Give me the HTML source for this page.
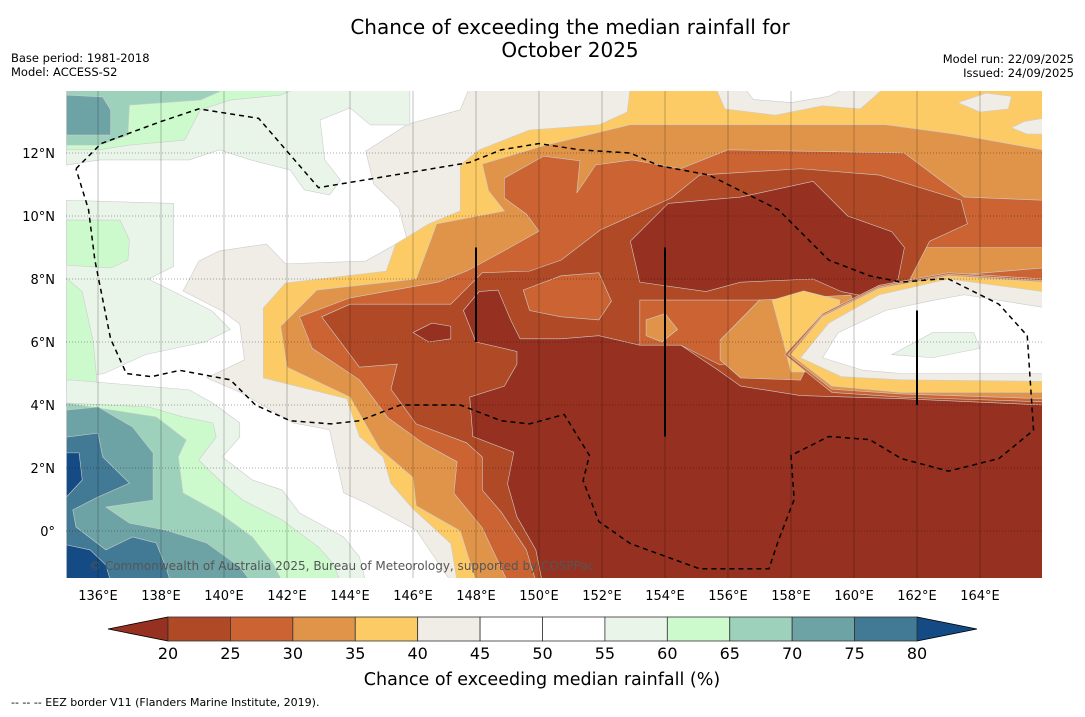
<!DOCTYPE html>
<html><head><meta charset="utf-8"><style>
body{margin:0;background:#fff;font-family:"DejaVu Sans","Liberation Sans",sans-serif}
</style></head><body>
<svg id="chart" width="1085" height="713" xmlns="http://www.w3.org/2000/svg" font-family="DejaVu Sans, Liberation Sans, sans-serif">
<rect width="1085" height="713" fill="#fff"/>
<text x="570" y="34" font-size="20" text-anchor="middle">Chance of exceeding the median rainfall for</text>
<text x="570" y="57" font-size="20" text-anchor="middle">October 2025</text>
<text x="11" y="62" font-size="11.5">Base period: 1981-2018</text>
<text x="11" y="76" font-size="11.5">Model: ACCESS-S2</text>
<text x="1074" y="63" font-size="11.5" text-anchor="end">Model run: 22/09/2025</text>
<text x="1074" y="77" font-size="11.5" text-anchor="end">Issued: 24/09/2025</text>
<defs><clipPath id="mc"><rect x="66" y="91" width="976" height="487"/></clipPath></defs>
<g id="map" clip-path="url(#mc)"><rect x="66" y="91" width="976" height="487" fill="#fff"/></g>
<g id="grid" clip-path="url(#mc)"></g>
<g id="axes"></g>
<g id="cbar"></g>
<text x="542" y="685" font-size="17.5" text-anchor="middle">Chance of exceeding median rainfall (%)</text>
<text x="11" y="706" font-size="11">--  --  -- EEZ border V11 (Flanders Marine Institute, 2019).</text>
</svg>
<script>
const lonTicks=[136,138,140,142,144,146,148,150,152,154,156,158,160,162,164];
const latTicks=[0,2,4,6,8,10,12];
const cbarTicks=[20,25,30,35,40,45,50,55,60,65,70,75,80];
const cbarColors=["#b04a26","#cb6432","#e0944a","#fdcb66","#f0ece6","#ffffff","#ffffff","#eaf5ea","#ccfacc","#9dd1bb","#6ea3a5","#427a96"];
const lowColor="#963020", highColor="#154b84";
const layers=[
 ["beige-40-45","#f0ece6",[[147.8,14.1],[147.5,13.37],[145.85,12.92],[144.5,12.06],[144.75,11.02],[145.55,10.25],[145.8,9.3],[144.5,8.57],[141.95,8.48],[141.35,9.11],[139.85,8.89],[139.2,8.57],[138.7,7.62],[139.95,6.98],[140.5,6.57],[140.65,5.43],[139.45,4.86],[140.5,4.41],[142.2,3.43],[143.35,3.21],[143.8,1.21],[144.5,0.89],[146.1,0.03],[147.2,-1.6],[166,-1.6],[166,14.1]]],
 ["yellow-35-40","#fdcb66",[[152.9,14.1],[152.8,13.3],[151.9,12.89],[149.7,12.73],[148.1,12.1],[147.5,11.62],[147.5,10.16],[146.5,9.75],[145.45,9.11],[145.15,8.25],[141.95,7.87],[141.25,7.08],[141.25,4.86],[143.9,4.2],[144.3,3.0],[145.05,2.35],[145.3,1.5],[146.0,0.7],[147.2,-0.4],[147.4,-1.6],[166,-1.6],[166,14.1]]],
 ["top-beige-patch","#f0ece6",[[155.6,14.1],[155.9,13.4],[157.5,13.2],[159,13.5],[160.2,13.4],[161,14.1]]],
 ["top-white-patch","#ffffff",[[156.5,14.1],[156.8,13.7],[158,13.6],[159.2,13.8],[159.8,14.1]]],
 ["ne-beige-patch1","#f0ece6",[[163.3,13.6],[164.0,13.3],[164.9,13.4],[165,13.8],[164.2,13.9]]],
 ["ne-beige-patch2","#f0ece6",[[165.0,12.8],[165.5,12.6],[166,12.6],[166,13.1],[165.4,13.0]]],
 ["orange-30-35","#e0944a",[[166,12.1],[163.2,12.6],[161,12.9],[152.9,12.9],[150.1,12.22],[148.2,11.65],[148.4,10.8],[148.9,10.16],[146.75,9.75],[146.55,9.2],[146.1,8.0],[142.95,7.65],[141.8,6.5],[142.0,5.2],[144.0,4.25],[144.95,2.6],[146.0,1.7],[146.1,0.8],[147.5,0.0],[148.0,-1.6],[166,-1.6]]],
 ["terracotta-25-30","#cb6432",[[166,10.5],[163.5,10.6],[162.8,11.1],[161.6,12.0],[156,12.1],[154.5,11.5],[152.95,11.78],[151.8,11.62],[151.2,10.73],[151.3,11.75],[150.15,11.9],[148.9,11.2],[148.9,10.57],[149.6,10.06],[150.0,9.52],[148.9,8.9],[147.7,8.25],[146.8,7.9],[144.0,7.4],[142.4,6.8],[142.8,5.8],[144.3,4.8],[145.2,3.6],[146.3,2.8],[147.4,2.2],[147.3,1.2],[148.2,0.1],[149.0,-1.6],[166,-1.6]]],
 ["east-orange-band","#e0944a",[[162.1,9.0],[166,9.0],[166,8.35],[163.0,8.1],[161.6,7.8],[161.3,8.3]]],
 ["brown-20-25","#b04a26",[[148.2,8.2],[149.7,8.25],[150.7,8.6],[151.95,9.56],[154.2,10.57],[155.1,11.3],[158.3,11.5],[160.8,11.3],[163.4,10.5],[163.6,9.75],[162.4,9.2],[161.6,7.65],[166,7.6],[166,-1.6],[149.9,-1.6],[149.6,-0.6],[148.8,0.6],[148.2,1.3],[148.2,2.35],[147.7,2.8],[146.1,3.4],[145.3,4.5],[145.5,5.3],[144.3,5.2],[143.1,6.8],[144.0,7.2],[147.2,7.2]]],
 ["terracotta-island","#cb6432",[[149.5,7.65],[150.7,8.1],[151.9,8.2],[152.3,7.3],[151.9,6.7],[150.7,6.8],[149.7,7.0]]],
 ["dark-north-blob","#963020",[[154.1,10.4],[156.4,10.6],[158.7,11.1],[159.8,10.0],[161.2,9.5],[161.6,9.0],[161.4,8.0],[160.6,7.4],[159.6,7.6],[158.7,8.0],[156.4,7.9],[155.3,7.6],[153.2,7.9],[152.9,9.2]]],
 ["dark-below-20","#963020",[[147.6,7.0],[148.1,7.6],[148.7,7.65],[149.1,6.7],[149.4,6.1],[150.7,6.1],[151.9,6.2],[153.2,5.9],[154.5,5.9],[155.7,5.1],[156.4,4.6],[158.3,4.3],[161.5,4.2],[166,4.0],[166,-1.6],[150.1,-1.6],[149.9,-0.6],[149.3,0.45],[149.0,1.5],[149.2,2.5],[147.9,3.0],[147.8,4.25],[148.9,4.6],[149.3,5.3],[149.3,5.7],[148.0,6.0]]],
 ["dark-island","#963020",[[146.0,6.3],[146.6,6.6],[147.2,6.5],[147.2,6.1],[146.5,6.0]]],
 ["central-terracotta","#cb6432",[[153.2,7.33],[158.3,7.33],[158.3,5.75],[155.75,5.27],[154.5,5.9],[153.2,5.9]]],
 ["central-orange-spot","#e0944a",[[153.4,6.7],[154.0,6.9],[154.4,6.4],[153.9,6.0],[153.4,6.2]]],
 ["central-orange","#e0944a",[[155.75,6.06],[157.0,7.33],[159.9,7.49],[160.2,6.7],[158.9,6.06],[158.3,4.79],[156.4,4.86],[155.75,5.43]]],
 ["central-yellow","#fdcb66",[[157.4,7.33],[158.4,7.62],[159.55,7.33],[159.5,6.54],[158.55,6.22],[158.45,5.05],[158.0,5.05],[157.7,6.22]]],
 ["east-ring-terracotta","#cb6432",[[157.8,5.6],[159.0,6.9],[160.8,7.8],[163,8.2],[166,8.0],[166,4.1],[161.5,4.25],[159.3,4.4]]],
 ["east-ring-orange","#e0944a",[[157.9,5.6],[159.0,6.85],[160.8,7.75],[163,8.15],[166,7.95],[166,4.2],[161.5,4.35],[159.3,4.5]]],
 ["east-ring-yellow","#fdcb66",[[158.0,5.6],[159.0,6.8],[160.8,7.7],[163.0,8.1],[166,7.9],[166,4.4],[161.5,4.4],[159.3,4.6]]],
 ["east-beige","#f0ece6",[[158.3,5.5],[159.2,6.6],[160.8,7.5],[163.0,8.0],[166,7.6],[166,4.75],[161.5,4.8],[159.6,4.9]]],
 ["east-white","#ffffff",[[159.0,5.5],[159.5,6.3],[161.0,7.0],[162.4,7.3],[163.5,7.5],[166,7.1],[166,5.0],[161.5,5.0],[160.3,5.1]]],
 ["east-lightgreen","#eaf5ea",[[161.2,5.6],[162.5,6.3],[163.8,6.3],[164.0,5.8],[162.5,5.5]]],
 ["tl-55","#eaf5ea",[[135,14.1],[145.9,14.1],[145.9,12.89],[144.65,12.89],[144.0,13.43],[143.05,13.05],[143.2,11.78],[143.7,11.14],[143.35,10.67],[142.55,10.83],[142.1,11.46],[140.85,11.78],[139.85,12.1],[138.9,11.78],[137.65,11.78],[136.05,11.78],[135,11.62]]],
 ["tl-60","#ccfacc",[[135,14.1],[142.4,14.1],[141.8,13.84],[140.2,13.68],[139.25,13.37],[138.75,12.41],[137.0,12.25],[136.05,12.1],[135,12.1]]],
 ["tl-65","#9dd1bb",[[135,14.1],[140.2,14.1],[139.25,13.68],[137.0,13.52],[136.95,12.57],[136.05,12.25],[135,12.25]]],
 ["tl-70","#6ea3a5",[[135,13.84],[136.15,13.78],[136.4,13.37],[136.4,12.57],[135,12.57]]],
 ["left-55","#eaf5ea",[[135,10.5],[138.4,10.4],[138.4,8.4],[137.6,8.0],[139.6,7.0],[140.2,6.4],[139.4,6.0],[137.5,5.6],[136.2,5.0],[135,4.8]]],
 ["left-60a","#ccfacc",[[135,9.87],[136.7,9.87],[137.0,9.24],[136.95,8.6],[136.4,8.35],[135,8.44]]],
 ["left-60b","#ccfacc",[[135,8.03],[135.5,7.6],[135.85,6.0],[136.0,4.4],[135,4.4]]],
 ["bl-55","#eaf5ea",[[135,4.8],[135.2,4.79],[138.9,4.48],[139.65,4.06],[140.5,3.43],[140.5,2.98],[139.95,2.35],[140.9,1.62],[141.85,1.3],[142.4,0.57],[143.8,-0.19],[144.3,-0.83],[144.5,-1.6],[135,-1.6]]],
 ["bl-60","#ccfacc",[[135,4.06],[137.6,3.94],[138.7,3.62],[139.65,3.43],[139.75,2.98],[139.2,2.25],[139.95,1.52],[140.6,0.98],[141.85,0.35],[143.0,-0.51],[143.45,-1.02],[143.7,-1.6],[135,-1.6]]],
 ["bl-65","#9dd1bb",[[135,4.06],[137.85,3.62],[138.8,2.89],[138.55,2.35],[138.7,1.21],[139.85,0.57],[140.9,-0.19],[141.55,-1.02],[141.85,-1.6],[135,-1.6]]],
 ["bl-70","#6ea3a5",[[135,3.84],[136.0,3.94],[137.1,3.3],[137.75,2.48],[137.75,0.98],[136.25,0.76],[137.0,0.25],[138.15,0.03],[139.45,-0.38],[140.5,-1.14],[140.85,-1.6],[135,-1.6]]],
 ["bl-75","#427a96",[[135,2.98],[136.0,3.11],[136.15,2.35],[137.0,1.52],[136.0,1.08],[135.2,0.67],[135.3,0.13],[136.25,-0.6],[137.1,-0.19],[137.85,-0.38],[138.15,-1.14],[138.3,-1.6],[135,-1.6]]],
 ["bl-80a","#154b84",[[135,2.48],[135.4,2.48],[135.5,1.62],[135,1.08]]],
 ["bl-80b","#154b84",[[135,-0.44],[135.75,-0.6],[136.25,-1.08],[136.4,-1.6],[135,-1.6]]]
];
const eez=[[135.3,11.5],[136.1,12.3],[138,13],[139.2,13.4],[141.1,13.1],[143,10.9],[147.8,11.7],[148.8,12.1],[150,12.3],[151.3,12.1],[152.9,12],[153.8,11.6],[155.4,11.3],[157.6,10.2],[159.2,8.6],[160.5,8.1],[161.5,7.9],[162.7,8],[163,8],[164.6,7.2],[165.5,6.2],[165.7,3.2],[164.6,2.3],[163,1.9],[161.5,2.3],[160.5,2.9],[159.2,3],[158,2.4],[158.1,1],[157.6,-0.3],[157.3,-1.2],[155.1,-1.2],[152.9,-0.4],[151.9,0.3],[151.4,1.6],[151.6,2.4],[150.8,3.7],[149.7,3.4],[148.8,3.5],[147.5,4],[145.6,4],[144.3,3.5],[143.4,3.4],[142.1,3.5],[141,4],[140.2,4.8],[138.6,5.1],[137.7,4.9],[136.9,5],[136.4,6.1],[135.9,8.6],[135.7,10.2],[135.3,11.5]];
const boundaryLines=[[148,6,9],[154,3,9],[162,4,7]];
const NS="http://www.w3.org/2000/svg";
const X=lon=>66.5+(lon-135)*31.5, Y=lat=>531-lat*31.5;
function mk(t,a,p){const e=document.createElementNS(NS,t);for(const k in a)e.setAttribute(k,a[k]);p.appendChild(e);return e;}
const map=document.getElementById('map');
layers.forEach(l=>{const e=mk('polygon',{points:l[2].map(p=>X(p[0])+','+Y(p[1])).join(' '),fill:l[1],stroke:'#ccc','stroke-width':0.6},map);

});
const grid=document.getElementById('grid');
lonTicks.forEach(v=>{const e=mk('line',{x1:X(v),x2:X(v),y1:91,y2:578,stroke:'#000','stroke-opacity':0.3,'stroke-width':0.8},grid);

});
latTicks.forEach(v=>{const e=mk('line',{x1:66,x2:1042,y1:Y(v),y2:Y(v),stroke:'#000','stroke-opacity':0.45,'stroke-width':0.8,'stroke-dasharray':'1,2'},grid);

});
const ez=mk('polyline',{points:eez.map(p=>X(p[0])+','+Y(p[1])).join(' '),fill:'none',stroke:'#000','stroke-width':1.5,'stroke-dasharray':'5,4'},grid);


boundaryLines.forEach(b=>{const e=mk('line',{x1:X(b[0]),x2:X(b[0]),y1:Y(b[2]),y2:Y(b[1]),stroke:'#000','stroke-width':2},grid);

});
const cr=mk('text',{x:89,y:570,'font-size':12,fill:'#555'},grid);cr.textContent='© Commonwealth of Australia 2025, Bureau of Meteorology, supported by COSPPac';


const axes=document.getElementById('axes');
lonTicks.forEach(v=>{const t=mk('text',{x:X(v),y:600,'font-size':13,'text-anchor':'middle'},axes);t.textContent=v+'°E';

});
latTicks.forEach(v=>{const t=mk('text',{x:55,y:Y(v)+5,'font-size':13,'text-anchor':'end'},axes);t.textContent=v===0?'0°':v+'°N';

});
const cb=document.getElementById('cbar');
const cx0=168,cw=(917-168)/cbarColors.length,cy=617,ch=24;
const lt=mk('polygon',{points:`108,${cy+ch/2} ${cx0},${cy} ${cx0},${cy+ch}`,fill:lowColor,stroke:'#000','stroke-width':0.8},cb);


const ht=mk('polygon',{points:`977,${cy+ch/2} 917,${cy} 917,${cy+ch}`,fill:highColor,stroke:'#000','stroke-width':0.8},cb);


cbarColors.forEach((c,i)=>{const r=mk('rect',{x:cx0+i*cw,y:cy,width:cw,height:ch,fill:c,stroke:'#333','stroke-width':0.8},cb);

});
cbarTicks.forEach((v,i)=>{const t=mk('text',{x:cx0+i*cw,y:659,'font-size':16,'text-anchor':'middle'},cb);t.textContent=v;

});
</script>
</body></html>
